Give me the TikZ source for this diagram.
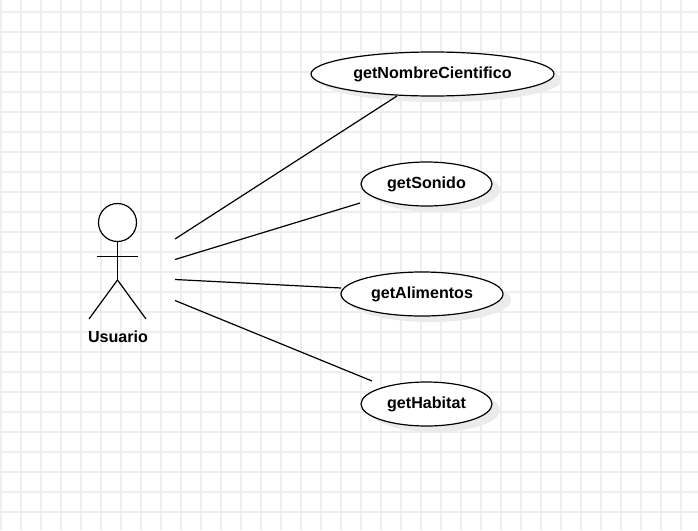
\documentclass[tikz,border=0pt]{standalone}
\usepackage{fontspec}
\setmainfont{Liberation Sans}
\usetikzlibrary{shapes.geometric}
\definecolor{gridc}{HTML}{EEEEEE}
\definecolor{shadowc}{HTML}{EBEBEB}
\newcommand{\uclabel}[1]{\raisebox{-3pt}{#1}}
\tikzset{
  gridline/.style={draw=gridc,line width=1.3pt},
  usecase/.style={ellipse,draw=black,fill=white,line width=1.2pt,inner sep=0pt,outer sep=0pt,font=\bfseries\fontsize{16.1}{18}\selectfont,text=black},
  ushadow/.style={ellipse,fill=shadowc,draw=none,inner sep=0pt,outer sep=0pt},
  stroke/.style={draw=black,line width=1.2pt},
  actorlabel/.style={font=\bfseries\fontsize{16.1}{18}\selectfont,text=black,inner sep=0pt}
}
\begin{document}
\begin{tikzpicture}[x=1pt,y=-1pt]
\useasboundingbox (0,0) rectangle (698,530);
\fill[white] (0,0) rectangle (698,530);
\foreach \gx in {1,21,...,681} {\draw[gridline] (\gx,0) -- (\gx,530);}
\foreach \gy in {12,32,...,512} {\draw[gridline] (0,\gy) -- (698,\gy);}
% shadows
\node[ushadow,minimum width=243pt,minimum height=44pt] (s1) at (440.5,80) {};
\node[ushadow,minimum width=131pt,minimum height=44pt] (s2) at (434.5,190) {};
\node[ushadow,minimum width=162pt,minimum height=44pt] (s3) at (430,300) {};
\node[ushadow,minimum width=131pt,minimum height=44pt] (s4) at (434.5,410) {};
% use cases
\node[usecase,minimum width=243pt,minimum height=44pt] (e1) at (432.5,74) {\uclabel{getNombreCientifico}};
\node[usecase,minimum width=131pt,minimum height=44pt] (e2) at (426.5,184) {\uclabel{getSonido}};
\node[usecase,minimum width=162pt,minimum height=44pt] (e3) at (422,294) {\uclabel{getAlimentos}};
\node[usecase,minimum width=131pt,minimum height=44pt] (e4) at (426.5,404) {\uclabel{getHabitat}};
% actor
\node[circle,stroke,fill=white,minimum size=38pt,inner sep=0pt,outer sep=0pt] (head) at (117.5,222.5) {};
\coordinate (hip) at (117.5,280);
\coordinate (armL) at (97,256.5);
\coordinate (armR) at (138,256.5);
\coordinate (footL) at (89,319);
\coordinate (footR) at (146,319);
\draw[stroke] (head.south) -- (hip);
\draw[stroke] (armL) -- (armR);
\draw[stroke] (footL) -- (hip) -- (footR);
\node[actorlabel] (usuario) at (118,337) {Usuario};
% connector ends
\coordinate (a1) at (175,239);
\coordinate (a2) at (175,259.5);
\coordinate (a3) at (175,279.5);
\coordinate (a4) at (175,300.5);
\coordinate (b1) at (397,96);
\coordinate (b2) at (360,203);
\coordinate (b3) at (341,288);
\coordinate (b4) at (372,381);
\draw[stroke] (a1) -- (b1);
\draw[stroke] (a2) -- (b2);
\draw[stroke] (a3) -- (b3);
\draw[stroke] (a4) -- (b4);
\end{tikzpicture}
\end{document}
